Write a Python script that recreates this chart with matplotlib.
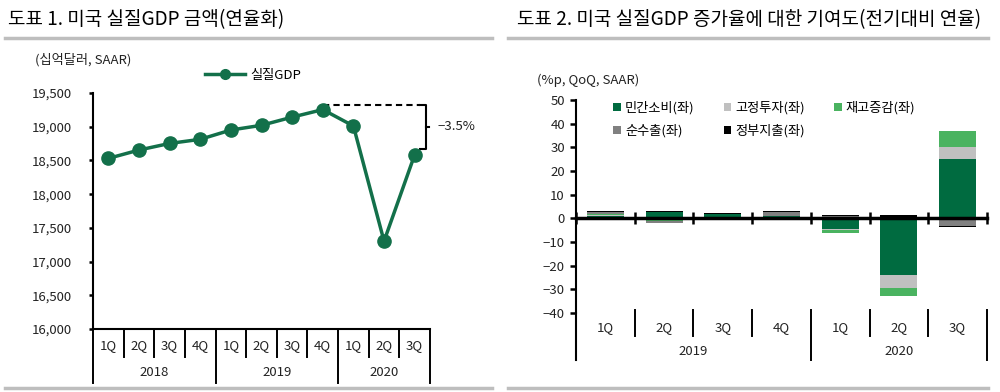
import matplotlib
matplotlib.use("Agg")
import matplotlib.pyplot as plt
import matplotlib.transforms as mtransforms
from matplotlib.lines import Line2D
from matplotlib.patches import Patch
from matplotlib.ticker import FuncFormatter
import numpy as np

plt.rcParams["font.family"] = ["Noto Sans CJK KR", "DejaVu Sans"]
plt.rcParams["axes.unicode_minus"] = True

# ---- data: chart 1 (real GDP level, bn USD SAAR)
gdp_quarters = ["1Q", "2Q", "3Q", "4Q", "1Q", "2Q", "3Q", "4Q", "1Q", "2Q", "3Q"]
gdp_years = ["2018", "2019", "2020"]
gdp_year_sizes = [4, 4, 3]
gdp_values = [18530, 18654, 18752, 18813, 18951, 19021, 19142, 19254, 19011, 17303, 18584]

# ---- data: chart 2 (contribution to real GDP growth, %p QoQ SAAR)
contrib_quarters = ["1Q", "2Q", "3Q", "4Q", "1Q", "2Q", "3Q"]
contrib_years = ["2019", "2020"]
contrib_year_sizes = [4, 3]
pce = [1.0, 2.8, 1.8, 1.0, -4.6, -24.0, 25.2]
fixed_inv = [0.5, -0.2, 0.1, 0.1, -0.2, -5.4, 5.0]
inventory = [0.3, -1.0, -0.1, -0.9, -1.4, -3.5, 6.6]
net_exports = [0.7, -0.6, -0.1, 1.5, 1.1, 0.6, -3.1]
government = [0.4, 0.4, 0.4, 0.4, 0.2, 0.7, -0.6]

series_labels = ["민간소비(좌)", "고정투자(좌)", "재고증감(좌)", "순수출(좌)", "정부지출(좌)"]
series_colors = ["#006B40", "#C0C0C0", "#4AB360", "#808080", "#000000"]

LINE_GREEN = "#13704A"
SEP_GRAY = "#BEBEBE"
W, H = 1000, 392

fig = plt.figure(figsize=(W / 100, H / 100), dpi=100)


def fx(px):
    return px / W


def fy(py):
    return 1 - py / H


def hline_px(x0, x1, y, **kw):
    fig.add_artist(Line2D([fx(x0), fx(x1)], [fy(y), fy(y)], transform=fig.transFigure, **kw))


# titles and separator lines
fig.text(fx(8), fy(20), "도표 1. 미국 실질GDP 금액(연율화)", fontsize=13.7, va="center", ha="left")
fig.text(fx(517), fy(20), "도표 2. 미국 실질GDP 증가율에 대한 기여도(전기대비 연율)", fontsize=13.7,
         va="center", ha="left")
for x0, x1 in [(5, 492), (508, 988)]:
    hline_px(x0, x1, 38, color=SEP_GRAY, lw=2.5)
    hline_px(x0, x1, 388, color=SEP_GRAY, lw=2.5)


def group_axis(ax, labels, years, sizes, q_y, yr_y, q_low, yr_low, top=0.0, lw=1.4):
    trans = mtransforms.blended_transform_factory(ax.transData, ax.transAxes)
    for i, q in enumerate(labels):
        ax.text(i, q_y, q, transform=trans, ha="center", va="center", fontsize=9.5, color="#222222")
    bounds = np.cumsum([0] + sizes) - 0.5
    for b in np.arange(len(labels) + 1) - 0.5:
        low = yr_low if b in bounds else q_low
        ax.add_line(Line2D([b, b], [top, low], transform=trans, color="black", lw=lw, clip_on=False))
    for yr, s0, s1 in zip(years, bounds[:-1], bounds[1:]):
        ax.text((s0 + s1) / 2, yr_y, yr, transform=trans, ha="center", va="center", fontsize=9.5,
                color="#222222")


# ================= chart 1 =================
ax1 = fig.add_axes([fx(93), fy(329), fx(430 - 93), (329 - 93) / H])
x1 = np.arange(len(gdp_values))
ax1.plot(x1, gdp_values, color=LINE_GREEN, lw=2.5, marker="o", ms=9.5, label="실질GDP", zorder=3)
ax1.set_xlim(-0.5, len(gdp_values) - 0.5)
ax1.set_ylim(16000, 19500)
ax1.set_yticks(np.arange(16000, 19501, 500))
ax1.yaxis.set_major_formatter(FuncFormatter(lambda v, p: f"{v:,.0f}"))
ax1.set_xticks([])
for s in ["top", "right"]:
    ax1.spines[s].set_visible(False)
for s in ["left", "bottom"]:
    ax1.spines[s].set_linewidth(1.5)
ax1.tick_params(axis="y", direction="out", length=3, width=1.8, labelsize=9.5, pad=12,
                labelcolor="#222222")
group_axis(ax1, gdp_quarters, gdp_years, gdp_year_sizes, -0.072, -0.186, -0.119, -0.229)

# peak-to-latest annotation
peak_i = int(np.argmax(gdp_values))
peak, last = gdp_values[peak_i], gdp_values[-1]
top_y, bot_y = peak + 70, last + 90
ax1.plot([peak_i, 10.18], [top_y, top_y], color="black", lw=1.5, ls=(0, (3, 2)), clip_on=False)
bx = 10.36
ax1.plot([10.18, bx, bx, 10.18], [top_y, top_y, bot_y, bot_y], color="black", lw=1.5, clip_on=False)
mid = (top_y + bot_y) / 2
ax1.plot([bx, bx + 0.12], [mid, mid], color="black", lw=1.5, clip_on=False)
pct = (last / peak - 1) * 100
ax1.text(bx + 0.4, mid, f"{pct:.1f}%".replace("-", "\u2212"), fontsize=9.5, va="center", ha="left",
         color="#222222")

fig.text(fx(35), fy(60), "(십억달러, SAAR)", fontsize=9.5, va="center", ha="left", color="#222222")
fig.legend(handles=[Line2D([], [], color=LINE_GREEN, lw=2.5, marker="o", ms=7)], labels=["실질GDP"],
           loc="center left", bbox_to_anchor=(fx(205), fy(75)), frameon=False, fontsize=9.5,
           handlelength=3.0, handletextpad=0.4, borderpad=0, borderaxespad=0)

# ================= chart 2 =================
ax2 = fig.add_axes([fx(576), fy(313), fx(987 - 576), (313 - 100) / H])
x2 = np.arange(len(pce))
series = [pce, fixed_inv, inventory, net_exports, government]
pos_base = np.zeros(len(pce))
neg_base = np.zeros(len(pce))
for vals, col, lab in zip(series, series_colors, series_labels):
    v = np.array(vals, dtype=float)
    pos = np.where(v > 0, v, 0)
    neg = np.where(v < 0, v, 0)
    ax2.bar(x2, pos, bottom=pos_base, width=0.63, color=col, label=lab, zorder=2)
    ax2.bar(x2, neg, bottom=neg_base, width=0.63, color=col, zorder=2)
    pos_base += pos
    neg_base += neg

ax2.set_xlim(-0.5, len(pce) - 0.5)
ax2.set_ylim(-40, 50)
ax2.set_yticks(np.arange(-40, 51, 10))
for s in ["top", "right"]:
    ax2.spines[s].set_visible(False)
ax2.spines["bottom"].set_position(("data", 0))
ax2.spines["bottom"].set_linewidth(2.5)
ax2.spines["bottom"].set_zorder(3)
ax2.spines["left"].set_linewidth(1.5)
ax2.set_xticks(np.arange(len(pce) + 1) - 0.5)
ax2.set_xticklabels([])
ax2.tick_params(axis="x", direction="inout", length=9, width=1.8)
ax2.tick_params(axis="y", direction="out", length=4, width=1.8, labelsize=9.5, pad=4,
                labelcolor="#222222")
trans2 = mtransforms.blended_transform_factory(ax2.transData, ax2.transAxes)
ax2.add_line(Line2D([-0.5, -0.5], [0, -0.22], transform=trans2, color="black", lw=1.5, clip_on=False))
group_axis(ax2, contrib_quarters, contrib_years, contrib_year_sizes, -0.07, -0.183, -0.108, -0.22,
           top=0.014)

fig.text(fx(537), fy(80), "(%p, QoQ, SAAR)", fontsize=9.5, va="center", ha="left", color="#222222")
handles = [Patch(facecolor=c, edgecolor="none") for c in series_colors]
order = [0, 3, 1, 4, 2]
ax2.legend([handles[i] for i in order], [series_labels[i] for i in order], ncol=3,
           loc="upper left", bbox_to_anchor=(fx(613), fy(101)), bbox_transform=fig.transFigure,
           frameon=False, fontsize=9.5, handlelength=0.6, handleheight=0.6, handletextpad=0.3,
           columnspacing=2.2, labelspacing=0.75, borderpad=0, borderaxespad=0)

fig.savefig("out.png", dpi=100)
